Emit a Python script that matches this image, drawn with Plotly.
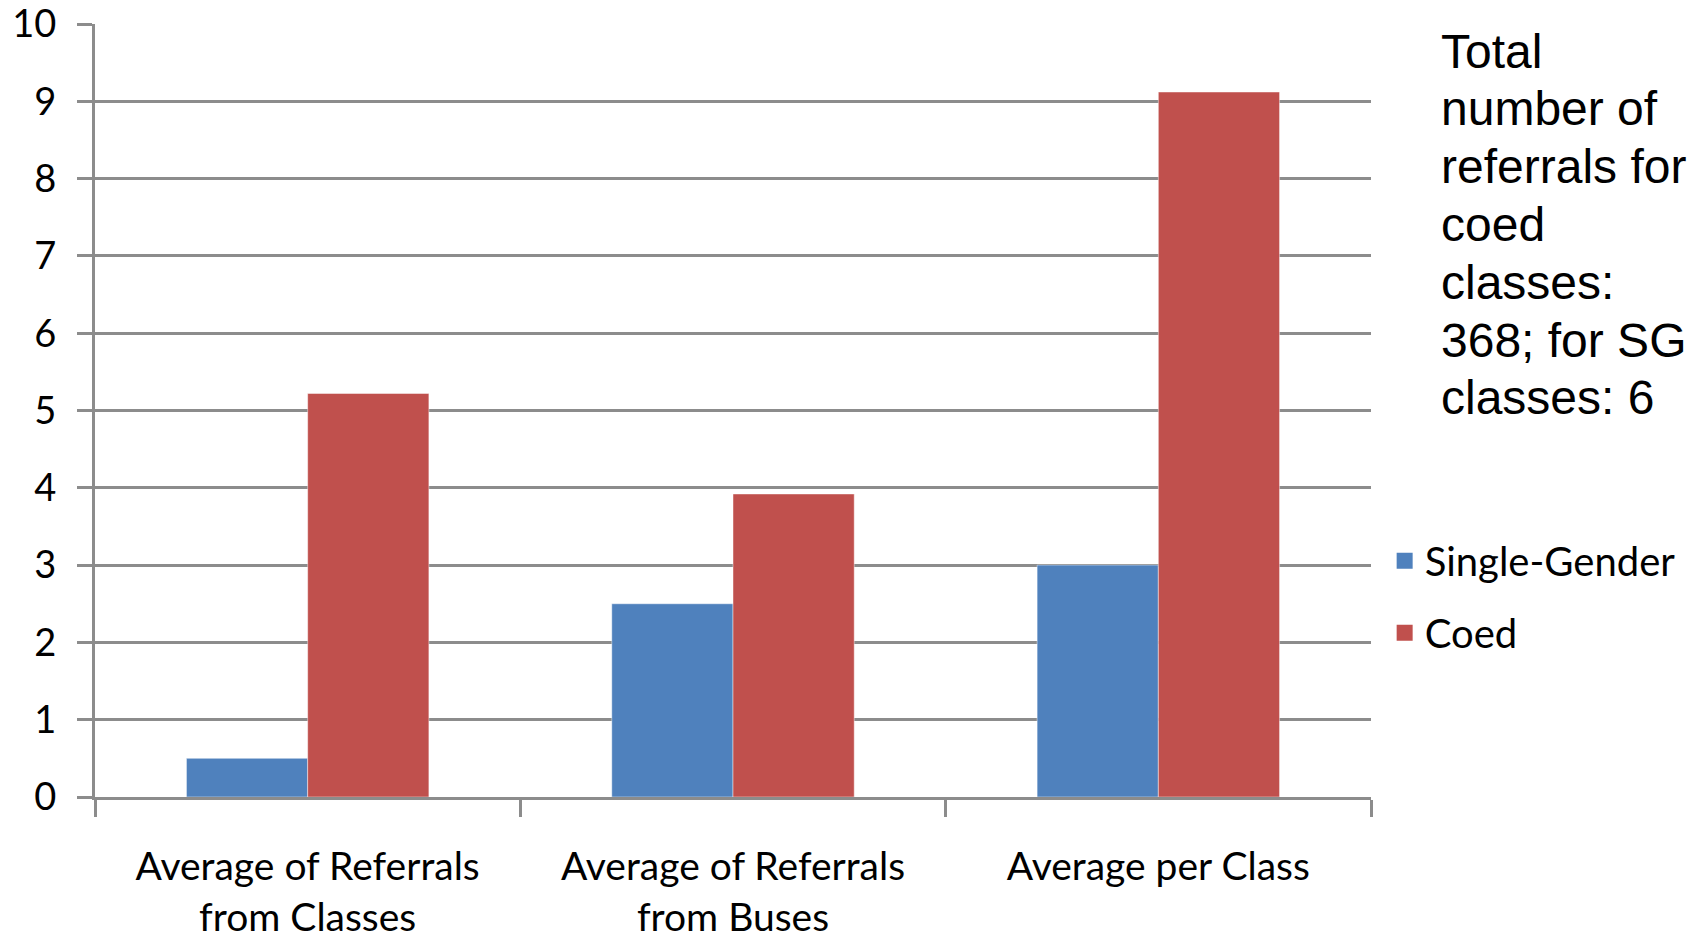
import plotly.graph_objects as go

categories = ["Average of Referrals<br>from Classes", "Average of Referrals<br>from Buses", "Average per Class"]
single_gender = [0.5, 2.5, 3.0]
coed = [5.22, 3.92, 9.12]
y_ticks = list(range(0, 11))
note_lines = ["Total", "number of", "referrals for", "coed", "classes:", "368; for SG", "classes: 6"]

grid = "#8c8c8c"
blue = "#4F81BD"
red = "#C0504D"
font_main = "Lato, 'Open Sans', sans-serif"

fig = go.Figure()
fig.add_trace(go.Bar(
    x=categories, y=single_gender, name="Single-Gender", legendgroup="sg", showlegend=False,
    marker=dict(color=blue, line=dict(color="rgba(255,255,255,0.45)", width=1)),
))
fig.add_trace(go.Bar(
    x=categories, y=coed, name="Coed", legendgroup="co", showlegend=False,
    marker=dict(color=red, line=dict(color="rgba(255,255,255,0.45)", width=1)),
))
# legend entries with larger square swatches
for name, group, color in [("Single-Gender", "sg", blue), ("Coed", "co", red)]:
    fig.add_trace(go.Scatter(
        x=[None], y=[None], mode="markers", name=name, legendgroup=group,
        marker=dict(symbol="square", size=22, color=color),
    ))

# note text, one annotation per line to keep the tighter line spacing
line_step = 0.0748
annotations = []
for i, line in enumerate(note_lines):
    annotations.append(dict(
        text=line, xref="paper", yref="paper", x=1.053, y=0.965 - i * line_step,
        xanchor="left", yanchor="middle", align="left", showarrow=False,
        font=dict(family="'Liberation Sans', Arial, sans-serif", size=48, color="black"),
    ))

# margins account for the page's 8px body margin
fig.update_layout(
    width=1699, height=936,
    margin=dict(l=87, r=336, t=16, b=147),
    paper_bgcolor="white", plot_bgcolor="white",
    barmode="group", bargap=0.43, bargroupgap=0,
    font=dict(family=font_main, size=38, color="black"),
    legend=dict(
        x=1.0107, xanchor="left", y=0.259, yanchor="middle",
        font=dict(size=40), traceorder="grouped", tracegroupgap=17,
        bgcolor="rgba(0,0,0,0)",
    ),
    annotations=annotations,
)

fig.update_xaxes(
    automargin=False,
    showline=True, linecolor=grid, linewidth=3,
    ticks="outside", tickson="boundaries", ticklen=17, tickwidth=3, tickcolor=grid,
    tickfont=dict(size=39), ticklabelstandoff=33,
    showgrid=False,
)
fig.update_yaxes(
    automargin=False, ticklabeloverflow="allow",
    range=[0, 10], tickvals=y_ticks,
    showline=True, linecolor=grid, linewidth=3,
    ticks="outside", ticklen=15, tickwidth=3, tickcolor=grid,
    showgrid=True, gridcolor=grid, gridwidth=3,
    zeroline=False, tickfont=dict(size=38), ticklabelstandoff=13,
)

fig.write_html("out.html")
